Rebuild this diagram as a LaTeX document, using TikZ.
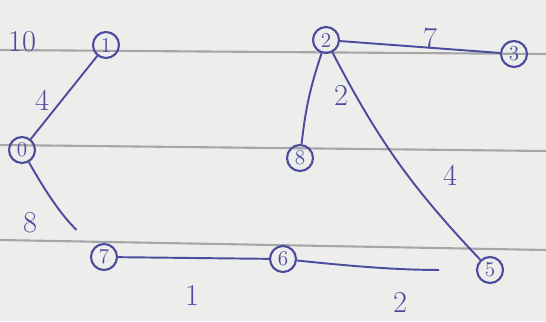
\documentclass[tikz,border=0pt]{standalone}
\usepackage{tikz}
\definecolor{ink}{rgb}{0.30,0.30,0.62}
\definecolor{paper}{rgb}{0.93,0.93,0.92}
\tikzset{
    vertex/.style={draw=ink, circle, line width=1.2pt, minimum size=0.52cm, inner sep=0pt, text=ink, font=\large},
    wlabel/.style={text=ink, font=\LARGE},
    edge/.style={draw=ink, line width=1.1pt}
}
\begin{document}
\begin{tikzpicture}[x=0.02cm, y=-0.02cm]
    % 纸面与横线
    \fill[paper] (0, 0) rectangle (546, 321);
    \useasboundingbox (0, 0) rectangle (546, 321);
    \draw[gray!70, line width=1.2pt] (0, 50) -- (546, 54);
    \draw[gray!70, line width=1.2pt] (0, 145) -- (546, 151);
    \draw[gray!70, line width=1.2pt] (0, 240) -- (546, 250);

    % 顶点
    \node[vertex] (n0) at (22, 150) {0};
    \node[vertex] (n1) at (106, 45) {1};
    \node[vertex] (n2) at (326, 40) {2};
    \node[vertex] (n3) at (514, 54) {3};
    \node[vertex] (n8) at (300, 158) {8};
    \node[vertex] (n7) at (104, 257) {7};
    \node[vertex] (n6) at (283, 259) {6};
    \node[vertex] (n5) at (490, 270) {5};

    % 边
    \draw[edge] (n0) -- (n1);
    \draw[edge, shorten >=14pt] (n0) to[bend right=8] (n7);
    \draw[edge] (n7) -- (n6);
    \draw[edge, shorten >=21pt] (n6) to[bend right=3] (n5);
    \draw[edge] (n2) -- (n3);
    \draw[edge] (n2) to[bend right=6] (n8);
    \draw[edge] (n2) to[bend right=8] (n5);

    % 权重
    \node[wlabel] (t0) at (22, 42) {10};
    \node[wlabel] (w01) at (42, 100) {4};
    \node[wlabel] (w07) at (30, 223) {8};
    \node[wlabel] (w76) at (192, 295) {1};
    \node[wlabel] (w65) at (400, 302) {2};
    \node[wlabel] (w23) at (430, 38) {7};
    \node[wlabel] (w28) at (341, 95) {2};
    \node[wlabel] (w25) at (450, 175) {4};
\end{tikzpicture}
\end{document}
